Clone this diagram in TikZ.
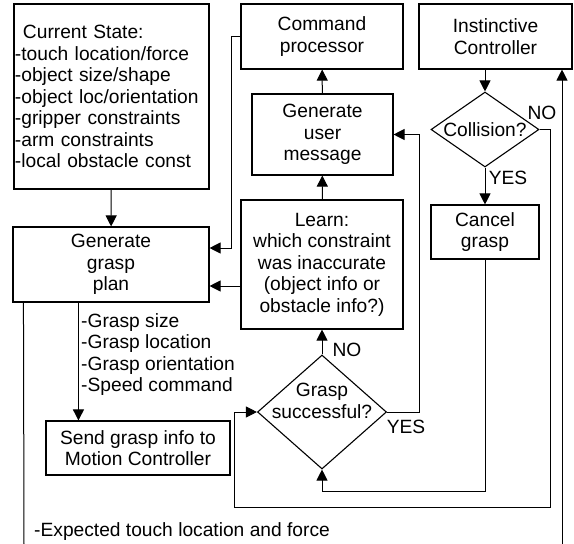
\documentclass[tikz,border=0pt]{standalone}
\usepackage{fontspec}
\setmainfont{Liberation Sans}
\usetikzlibrary{positioning,arrows.meta,calc,shapes.geometric}
\tikzset{
	box/.style={draw, line width=1.1pt, align=center, inner sep=0pt, font=\fontsize{19.2}{21.5}\selectfont},
	dia/.style={draw, diamond, line width=1.1pt, inner sep=0pt},
	txt/.style={inner sep=0pt, align=left, font=\fontsize{19.2}{21.5}\selectfont},
	arr/.style={-{Triangle[length=11pt,width=11pt]}, line width=1pt},
}

\begin{document}
\begin{tikzpicture}[x=1pt,y=-1pt]
	\useasboundingbox (0,0) rectangle (574,544);
	\node[box, align=left, text width=193pt, inner xsep=1pt, minimum height=185pt] (state) at (111.5,96.5) {\hspace*{8pt}Current State:\\-touch location/force\\-object size/shape\\-object loc/orientation\\-gripper constraints\\-arm constraints\\-local obstacle const};
	\node[box, minimum width=196pt, minimum height=75pt] (plan) at (111,264.5) {Generate\\grasp\\plan};
	\node[box, minimum width=162pt, minimum height=65pt] (cmd) at (322,36.5) {Command\\processor};
	\node[box, minimum width=153pt, minimum height=65pt] (inst) at (495.5,36.5) {Instinctive\\Controller};
	\node[box, minimum width=141pt, minimum height=81pt] (msg) at (322.5,134.5) {Generate\\user\\message};
	\node[box, minimum width=162pt, minimum height=129pt] (learn) at (322,264.5) {Learn:\\which constraint\\was inaccurate\\(object info or\\obstacle info?)};
	\node[box, minimum width=108pt, minimum height=54pt] (cancel) at (485,232) {Cancel\\grasp};
	\node[box, minimum width=184pt, minimum height=54pt] (send) at (138,448) {Send grasp info to\\Motion Controller};
	\node[dia, minimum width=108pt, minimum height=75pt] (coll) at (485,129.5) {};
	\node[txt] (colltext) at (coll) {Collision?};
	\node[dia, minimum width=129pt, minimum height=114pt] (grasp) at (322,412) {};
	\node[txt, align=center] (grasptext) at (322,401) {Grasp\\successful?};
	\node[txt] (collno) at (542,113) {NO};
	\node[txt] (collyes) at (508,178) {YES};
	\node[txt] (graspno) at (347,350) {NO};
	\node[txt] (graspyes) at (406,427) {YES};
	\node[txt, anchor=west] (spec) at (81,354.5) {-Grasp size\\-Grasp location\\-Grasp orientation\\-Speed command};
	\node[txt, anchor=west] (expect) at (34,532) {-Expected touch location and force};
	\coordinate (leftend) at (24,544);
	\coordinate (rightend) at (562,544);
	\foreach \a/\b in {state/plan,learn/msg,msg/cmd,coll/cancel,grasp/learn} \draw[arr] (\a) -- (\b);
	\draw[arr] (inst.south -| coll.north) -- (coll.north);
	\draw[arr] (cmd.west) -- ++(-9,0) |- ($(plan.east)+(0,-16.5)$);
	\draw[arr] ($(learn.west)+(0,21.5)$) -- ($(plan.east)+(0,21.5)$);
	\draw[arr] (grasp.east) -- ++(32.5,0) |- (msg.east);
	\draw[arr] (coll.east) -| (550,507) -| ($(grasp.west)+(-22,0)$) -- (grasp.west);
	\draw[arr] (cancel.south) |- ($(grasp.south)+(0,22)$) -- (grasp.south);
	\draw[arr] ($(plan.south west)+(66,0)$) -- ($(send.north west)+(33,0)$);
	\draw[line width=1pt] ($(plan.south west)+(11,0)$) -- (leftend);
	\draw[arr] (rightend) -- (rightend |- inst.south);
\end{tikzpicture}
\end{document}
